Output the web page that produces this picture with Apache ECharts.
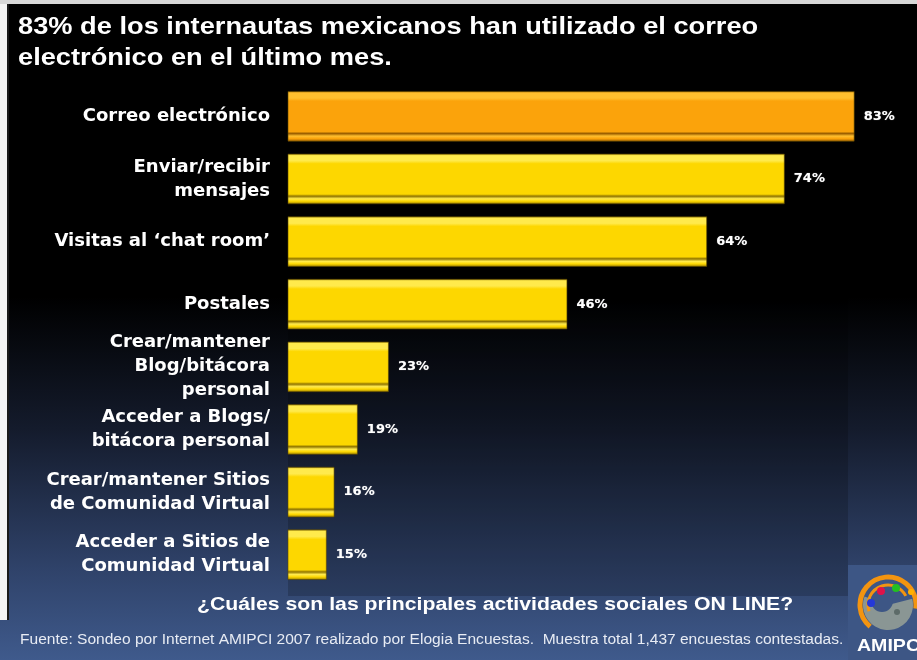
<!DOCTYPE html>
<html>
<head>
<meta charset="utf-8">
<script src="https://cdn.jsdelivr.net/npm/echarts@6/dist/echarts.min.js"></script>
<style>
  html, body { margin: 0; padding: 0; background: #000; }
  #chart { width: 917px; height: 660px; }
</style>
</head>
<body>
<div id="chart"></div>
<script>
// Online social activities of Mexican internet users (AMIPCI 2007)
const categories = [
  'Correo electrónico',
  'Enviar/recibir\nmensajes',
  'Visitas al ‘chat room’',
  'Postales',
  'Crear/mantener\nBlog/bitácora\npersonal',
  'Acceder a Blogs/\nbitácora personal',
  'Crear/mantener Sitios\nde Comunidad Virtual',
  'Acceder a Sitios de\nComunidad Virtual'
];
const values = [83, 74, 64, 46, 23, 19, 16, 15];
const highlightIndex = 0;

const titleLines = [
  '83% de los internautas mexicanos han utilizado el correo',
  'electrónico en el último mes.'
];
const question = '¿Cuáles son las principales actividades sociales ON LINE?';
const source = 'Fuente: Sondeo por Internet AMIPCI 2007 realizado por Elogia Encuestas.  Muestra total 1,437 encuestas contestadas.';
const logoText = 'AMIPCI';

// vertical bevel: dark rim, highlight band, body, groove and lip near the bottom
function bevel(light, main, dark) {
  return new echarts.graphic.LinearGradient(0, 0, 0, 1, [
    { offset: 0, color: dark },
    { offset: 0.04, color: light },
    { offset: 0.14, color: light },
    { offset: 0.20, color: main },
    { offset: 0.80, color: main },
    { offset: 0.84, color: dark },
    { offset: 0.89, color: light },
    { offset: 0.94, color: main },
    { offset: 1, color: dark }
  ]);
}
const orangeFill = bevel('#ffbf2e', '#fba30b', '#9a5e00');
const yellowFill = bevel('#ffea4c', '#fdd700', '#8f7400');

const chart = echarts.init(document.getElementById('chart'), null, { renderer: 'canvas' });

const W = 917;
const sans = '"Liberation Sans", Arial, sans-serif';

chart.setOption({
  backgroundColor: new echarts.graphic.LinearGradient(0, 0, 0, 1, [
    { offset: 0, color: '#000000' },
    { offset: 0.45, color: '#000000' },
    { offset: 0.65, color: '#141b2c' },
    { offset: 0.86, color: '#2f4269' },
    { offset: 1, color: '#3f5a8c' }
  ]),
  animation: false,
  graphic: [
    // page edges
    { type: 'rect', x: 0, y: 0, shape: { width: 7, height: 620 }, style: { fill: '#f4f4f4' }, z: 0 },
    { type: 'rect', x: 0, y: 0, shape: { width: W, height: 4 }, style: { fill: '#d8d8d8' }, z: 0 },
    { type: 'rect', x: 7, y: 4, shape: { width: 2, height: 616 }, style: { fill: '#1a1a1a' }, z: 0 },
    // plot panel
    { type: 'rect', x: 288, y: 80, shape: { width: 560, height: 516 },
      style: { fill: 'rgba(0,0,0,0.18)' }, z: 0 },
    // headline
    { type: 'text', x: 18, y: 12, scaleX: 1.135, originX: 0, originY: 0,
      style: { text: titleLines.join('\n'), fill: '#ffffff', font: 'bold 24px ' + sans, lineHeight: 31 } },
    // question under the chart
    { type: 'text', x: 197, y: 596, scaleX: 1.18, originX: 0, originY: 0,
      style: { text: question, fill: '#ffffff', font: 'bold 18px ' + sans } },
    // source note
    { type: 'text', x: 20, y: 633, scaleX: 1.11, originX: 0, originY: 0,
      style: { text: source, fill: '#e8ecf4', font: '14px ' + sans } },
    // AMIPCI logo
    { type: 'group', x: 848, y: 565, children: [
      { type: 'rect', shape: { x: 0, y: 0, width: 69, height: 95 }, style: { fill: '#3d5685' } },
      { type: 'sector', shape: { cx: 40, cy: 40, r0: 0, r: 25, startAngle: -0.25, endAngle: Math.PI + 0.35 },
        style: { fill: '#8a9694' } },
      { type: 'circle', shape: { cx: 34, cy: 36, r: 11 }, style: { fill: '#3d5685' } },
      { type: 'circle', shape: { cx: 49, cy: 47, r: 3 }, style: { fill: '#5d6b69' } },
      { type: 'arc', shape: { cx: 40, cy: 40, r: 28, startAngle: Math.PI * 0.72, endAngle: Math.PI * 2.04 },
        style: { stroke: '#f39410', lineWidth: 5, fill: null } },
      { type: 'arc', shape: { cx: 40, cy: 40, r: 20, startAngle: Math.PI * 0.9, endAngle: Math.PI * 1.85 },
        style: { stroke: '#f39410', lineWidth: 3, fill: null } },
      { type: 'circle', shape: { cx: 23, cy: 38, r: 4 }, style: { fill: '#2438d8' } },
      { type: 'circle', shape: { cx: 33, cy: 26, r: 4 }, style: { fill: '#e0124a' } },
      { type: 'circle', shape: { cx: 48, cy: 23, r: 4 }, style: { fill: '#22c022' } },
      { type: 'circle', shape: { cx: 63, cy: 27, r: 3 }, style: { fill: '#ffb000' } },
      { type: 'text', x: 9, y: 73, scaleX: 1.15, originX: 0, originY: 0,
        style: { text: logoText, fill: '#ffffff', font: 'bold 17px ' + sans } }
    ] }
  ],
  grid: { left: 288, right: 8, top: 85, bottom: 74, containLabel: false },
  xAxis: {
    type: 'value', min: 10, max: 90, show: false
  },
  yAxis: {
    type: 'category',
    data: categories,
    inverse: true,
    axisLine: { show: false },
    axisTick: { show: false },
    splitLine: { show: false },
    axisLabel: {
      color: '#ffffff',
      fontFamily: '"DejaVu Sans", Verdana, sans-serif',
      fontWeight: 'bold',
      fontSize: 18,
      lineHeight: 24,
      margin: 18,
      align: 'right'
    }
  },
  series: [{
    type: 'bar',
    data: values.map((v, i) => ({
      value: v,
      itemStyle: { color: i === highlightIndex ? orangeFill : yellowFill }
    })),
    barCategoryGap: '19%',
    itemStyle: {
      borderColor: 'rgba(90,70,0,0.6)',
      borderWidth: 1
    },
    label: {
      show: true,
      position: 'right',
      distance: 9,
      formatter: '{c}%',
      color: '#ffffff',
      fontFamily: '"DejaVu Sans", Verdana, sans-serif',
      fontWeight: 'bold',
      fontSize: 13,
      textShadowColor: 'rgba(255,255,255,0.5)',
      textShadowBlur: 1
    }
  }]
});
</script>
</body>
</html>
